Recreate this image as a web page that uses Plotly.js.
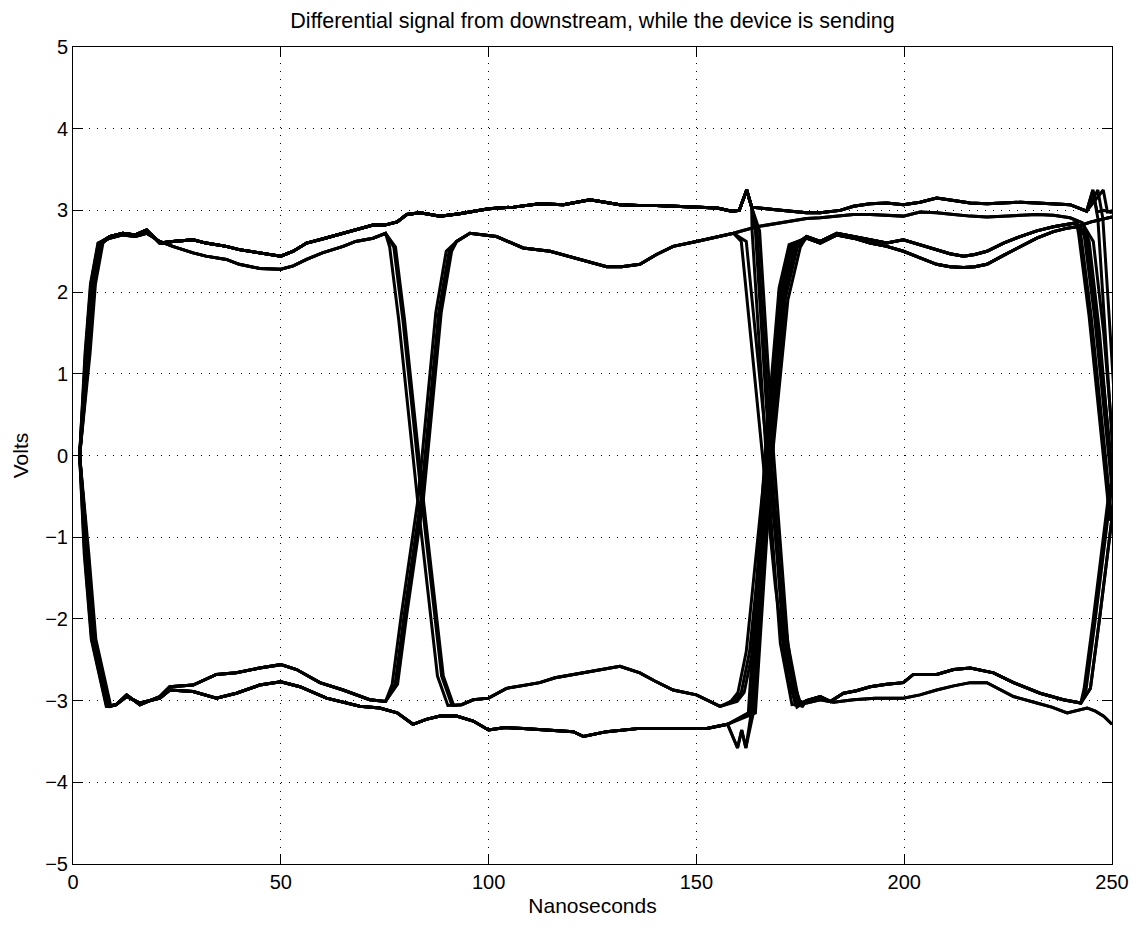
<!DOCTYPE html>
<html>
<head>
<meta charset="utf-8">
<script src="https://cdn.plot.ly/plotly-3.0.1.min.js"></script>
<style>html,body{margin:0;padding:0;background:#fff;}#chart{width:1147px;height:931px;}</style>
</head>
<body>
<div id="chart"></div>
<script>
// ---------- axis ticks ----------
const xTicks = [0, 50, 100, 150, 200, 250];
const yTicks = [-5, -4, -3, -2, -1, 0, 1, 2, 3, 4, 5];

// ---------- waveform pieces (ns, volts) ----------
// trigger point / first edge
const startT = [1.6];            const startV = [0];
const rise0T = [3.3, 4.6, 6.4];  const rise0V = [1.25, 2.1, 2.6];
const fall0T = [3.1, 4.8, 7.2, 8.4]; const fall0V = [-1.2, -2.25, -2.8, -3.07];

// bit 1 levels
const hi1aT = [8.8, 12, 15, 17.7, 20.9, 24, 28.9, 32, 36.9, 40, 44.9, 50, 53, 56.2, 60, 65, 68, 72.2, 75, 78, 80.3, 83.5, 86, 88.3];
const hi1aV = [2.68, 2.72, 2.7, 2.76, 2.6, 2.62, 2.64, 2.6, 2.56, 2.52, 2.48, 2.44, 2.5, 2.6, 2.65, 2.72, 2.76, 2.82, 2.82, 2.86, 2.95, 2.97, 2.95, 2.93];
const hi1bT = [8.8, 12, 15, 17.7, 20.9, 24, 28.9, 32, 36.9, 40, 44.9, 50, 53, 56.2, 60, 65, 68, 72.2, 75.2];
const hi1bV = [2.66, 2.7, 2.68, 2.72, 2.62, 2.56, 2.48, 2.44, 2.4, 2.34, 2.29, 2.28, 2.32, 2.4, 2.48, 2.56, 2.62, 2.66, 2.72];
const lo1uT = [10.4, 12.9, 16.1, 20.9, 23.3, 28.9, 34.5, 39.3, 44.9, 50, 53.8, 59.4, 65, 71.4, 75.2];
const lo1uV = [-3.05, -2.93, -3.05, -2.95, -2.83, -2.81, -2.68, -2.66, -2.6, -2.56, -2.62, -2.78, -2.87, -2.99, -3.01];
const lo1lT = [10.4, 12.9, 16.1, 20.9, 23.3, 28.9, 34.5, 39.3, 44.9, 50, 54.6, 61, 69, 73.8, 78, 81.8, 85, 88.3];
const lo1lV = [-3.05, -2.95, -3.03, -2.97, -2.87, -2.89, -2.97, -2.91, -2.81, -2.77, -2.83, -2.97, -3.07, -3.09, -3.15, -3.29, -3.23, -3.19];

// edges near 83 ns
const fall83T = [76.8, 79, 83.5, 88.3, 90.8]; const fall83V = [2.55, 1.65, -0.54, -2.7, -3.06];
const rise83T = [77.3, 79.5, 83.5, 87.8, 90.3]; const rise83V = [-2.8, -1.95, -0.54, 1.75, 2.5];

// bit 2 levels
const h2sT = [93, 100, 106, 112.3, 118, 124.4, 131.6, 136, 140.4, 145, 150, 155, 158.5];
const h2sV = [2.96, 3.02, 3.04, 3.08, 3.07, 3.13, 3.07, 3.06, 3.06, 3.05, 3.04, 3.03, 2.99];
const h2rT = [92.3, 95.5, 101.9, 108.3, 114.8, 120.4, 124, 128.4, 132, 136.4, 140.4, 144.4, 150, 155, 158.9];
const h2rV = [2.62, 2.72, 2.68, 2.54, 2.5, 2.42, 2.37, 2.31, 2.31, 2.34, 2.46, 2.56, 2.62, 2.68, 2.72];
const l2fT = [93.5, 96.3, 100, 104.3, 108, 112.3, 116, 120.4, 124, 128.4, 131.6, 136.4, 140, 144.4, 150, 155.7];
const l2fV = [-3.05, -2.99, -2.97, -2.85, -2.82, -2.78, -2.72, -2.68, -2.64, -2.6, -2.58, -2.66, -2.76, -2.87, -2.93, -3.07];
const l2sT = [92.3, 96.3, 100, 104, 108.3, 114, 120.4, 122.8, 128.4, 136.4, 144.4, 152.5, 157.5];
const l2sV = [-3.19, -3.25, -3.36, -3.33, -3.34, -3.36, -3.38, -3.44, -3.38, -3.34, -3.34, -3.34, -3.29];

// edges near 167 ns
const spike162T = [160.3, 162.1, 163.3]; const spike162V = [3.0, 3.25, 3.04];
const h2sStayT = [168.5, 173, 176.5];    const h2sStayV = [3.01, 2.99, 2.97];
const fallThickT = [164.2, 167.6, 171, 173.8]; const fallThickV = [2.75, 0, -2.3, -3.05];
const l2sSpikeT = [159.9, 160.9, 161.9]; const l2sSpikeV = [-3.58, -3.36, -3.58];
const riseThickT = [163.2, 167.2, 170.6, 173]; const riseThickV = [-3.15, 0, 2.05, 2.58];
const fall160T = [160.8, 163, 165.9, 169, 172, 174.2]; const fall160V = [2.62, 1.45, 0, -1.6, -2.75, -3.08];
const rise160T = [158.3, 160, 162, 166.8, 170.5, 173.5]; const rise160V = [-3.01, -2.9, -2.4, 0, 1.9, 2.55];
const h2rStayT = [164.5, 169, 172.5, 176.5]; const h2rStayV = [2.8, 2.84, 2.87, 2.9];

// bit 3 levels
const aT = [179.8, 184.6, 187.8, 191.8, 195.8, 199.8, 203.8, 207.8, 211.9, 215.9, 219.9, 223.9, 227.9, 231.9, 235.9, 239.9, 243.9];
const aV = [2.97, 3.0, 3.05, 3.08, 3.09, 3.07, 3.1, 3.15, 3.12, 3.09, 3.08, 3.09, 3.1, 3.09, 3.08, 3.07, 2.99];
const bT = [179.8, 183.8, 187.8, 191.8, 195.8, 199.8, 203.8, 207.8, 211.9, 215.9, 219.9, 223.9, 227.9, 231.9, 235.9, 239.9, 242.8];
const bV = [2.91, 2.93, 2.95, 2.95, 2.94, 2.93, 2.98, 2.97, 2.95, 2.93, 2.92, 2.93, 2.94, 2.95, 2.94, 2.91, 2.85];
const h3T = [176.5, 179.8, 183.8, 187.8, 191.8, 195.8, 199.8, 203.8, 207.8, 211, 214.3, 217, 219.9, 223.9, 227.9, 231.9, 235.9, 239, 241.5];
const h3uV = [2.68, 2.62, 2.72, 2.68, 2.64, 2.6, 2.64, 2.58, 2.52, 2.47, 2.44, 2.46, 2.5, 2.6, 2.68, 2.75, 2.8, 2.83, 2.85];
const h3lV = [2.66, 2.6, 2.7, 2.66, 2.6, 2.56, 2.5, 2.42, 2.34, 2.31, 2.3, 2.31, 2.34, 2.45, 2.56, 2.66, 2.74, 2.78, 2.8];
const l3uT = [176.5, 179.8, 182.2, 185.4, 188.5, 191.8, 195.8, 199.8, 202.2, 207.8, 211.9, 215.9, 221.5, 226.3, 232.7, 238.3, 242.5];
const l3uV = [-3.0, -2.95, -3.01, -2.91, -2.88, -2.83, -2.8, -2.78, -2.68, -2.68, -2.62, -2.6, -2.66, -2.78, -2.91, -2.99, -3.03];
const l3lT = [176.5, 179.8, 183, 187.8, 193, 199.8, 203.8, 207.8, 211.9, 215.9, 219.9, 226.3, 231.9, 235.5, 239.2, 244, 246, 248, 250];
const l3lV = [-3.03, -2.99, -3.02, -2.99, -2.97, -2.97, -2.93, -2.87, -2.82, -2.78, -2.78, -2.95, -3.03, -3.08, -3.15, -3.09, -3.13, -3.19, -3.29];

// edges near 250 ns
const endStayAT = [245.4, 246.4, 248, 250]; const endStayAV = [3.25, 2.98, 3.0, 2.97];
const endFallAT = [245.4, 246.6, 248.5, 250.5]; const endFallAV = [3.25, 2.9, 1.4, -0.2];
const endFallBT = [244.5, 247, 250.5]; const endFallBV = [2.62, 1.5, -0.6];
const endFallHT = [243, 245.5, 250.5]; const endFallHV = [2.7, 1.7, -0.8];
const endStayHT = [245, 250];          const endStayHV = [2.86, 2.92];
const endRiseT = [244.3, 246.5, 250.5]; const endRiseV = [-2.85, -2.0, -0.35];

// ---------- sweeps: route through pieces + edge timing jitter (ns) for edges 0/83/167/250 ----------
const sweepRoutes = [
  ['start','rise0','hi1a','h2s','spike162','h2sStay','a','endStayA'],
  ['start','rise0','hi1a','h2s','spike162','h2sStay','a','endStayA'],
  ['start','rise0','hi1a','h2s','spike162','h2sStay','a','endFallA'],
  ['start','rise0','hi1a','h2s','spike162','h2sStay','a','endFallA'],
  ['start','rise0','hi1a','h2s','spike162','fallThick','l3l'],
  ['start','rise0','hi1a','h2s','spike162','fallThick','l3l'],
  ['start','rise0','hi1a','h2s','spike162','fallThick','l3u','endRise'],
  ['start','rise0','hi1a','h2s','spike162','fallThick','l3u','endRise'],
  ['start','rise0','hi1b','fall83','l2f','rise160','h3u','endFallH'],
  ['start','rise0','hi1b','fall83','l2f','rise160','h3u','endFallH'],
  ['start','rise0','hi1b','fall83','l2f','rise160','h3l','endStayH'],
  ['start','fall0','lo1u','rise83','h2r','h2rStay','b','endFallB'],
  ['start','fall0','lo1u','rise83','h2r','h2rStay','b','endFallB'],
  ['start','fall0','lo1u','rise83','h2r','fall160','l3u','endRise'],
  ['start','fall0','lo1u','rise83','h2r','fall160','l3u','endRise'],
  ['start','fall0','lo1l','l2s','l2sSpike','riseThick','h3l','endStayH'],
  ['start','fall0','lo1l','l2s','riseThick','h3l','endStayH'],
  ['start','fall0','lo1l','l2s','l2sSpike','riseThick','h3u','endFallH'],
  ['start','fall0','lo1l','l2s','riseThick','h3u','endFallH'],
  ['start','fall0','lo1l','l2s','riseThick','h3l','endFallH']
];
const sweepJitter = [
  [0, 0, 0, 0], [0.5, 0, 0.3, 2.5], [0.2, 0, -0.4, 0], [0.6, 0, 0.6, 1.2],
  [-0.3, 0, -0.8, 0], [0.3, 0, 0.4, 0], [0.8, 0, 1.0, -1], [-0.2, 0, 0, 0.5],
  [0.4, -0.6, 0, -0.5], [-0.4, 0.4, 1.5, 0.6], [0, 0.8, 0.8, 0],
  [0, -0.5, 0, 0], [0.5, 0.5, 0, 1],
  [-0.3, 0.2, 0, 0.5], [0.3, 0.8, 1.2, -0.5],
  [0, 0, 0, 0], [0.5, 0, -0.7, 0], [-0.4, 0, 0.5, 0.8], [0.2, 0, 1.0, -1], [0.7, 0, -0.4, 0.3]
];

// piece table: [times, volts, which edge jitter applies (-1 = none)]
const pieces = {
  start:[startT,startV,-1], rise0:[rise0T,rise0V,0], fall0:[fall0T,fall0V,0],
  hi1a:[hi1aT,hi1aV,-1], hi1b:[hi1bT,hi1bV,-1], lo1u:[lo1uT,lo1uV,-1], lo1l:[lo1lT,lo1lV,-1],
  fall83:[fall83T,fall83V,1], rise83:[rise83T,rise83V,1],
  h2s:[h2sT,h2sV,-1], h2r:[h2rT,h2rV,-1], l2f:[l2fT,l2fV,-1], l2s:[l2sT,l2sV,-1],
  spike162:[spike162T,spike162V,-1], h2sStay:[h2sStayT,h2sStayV,-1], fallThick:[fallThickT,fallThickV,2],
  l2sSpike:[l2sSpikeT,l2sSpikeV,-1],
  riseThick:[riseThickT,riseThickV,2], fall160:[fall160T,fall160V,2], rise160:[rise160T,rise160V,2],
  h2rStay:[h2rStayT,h2rStayV,-1],
  a:[aT,aV,-1], b:[bT,bV,-1], h3u:[h3T,h3uV,-1], h3l:[h3T,h3lV,-1], l3u:[l3uT,l3uV,-1], l3l:[l3lT,l3lV,-1],
  endStayA:[endStayAT,endStayAV,3], endFallA:[endFallAT,endFallAV,3], endFallB:[endFallBT,endFallBV,3],
  endFallH:[endFallHT,endFallHV,3], endStayH:[endStayHT,endStayHV,3], endRise:[endRiseT,endRiseV,3]
};

const traces = sweepRoutes.map((route, i) => {
  const x = [], y = [];
  route.forEach(name => {
    const [T, V, e] = pieces[name];
    const d = e >= 0 ? sweepJitter[i][e] : 0;
    T.forEach((t, k) => { x.push(t + d); y.push(V[k]); });
  });
  return {x, y, type:'scatter', mode:'lines', line:{color:'#000', width:3}, hoverinfo:'skip', showlegend:false};
});

const fontFam = '"Liberation Sans", Arial, Helvetica, sans-serif';
const axisCommon = {
  ticks:'inside', ticklen:10, tickwidth:1, tickcolor:'#000',
  showline:true, linecolor:'#000', linewidth:1, mirror:'ticks',
  showgrid:true, gridcolor:'#000', gridwidth:1, griddash:'1px,7px',
  zeroline:false, tickfont:{family:fontFam, size:20, color:'#000'}
};
const layout = {
  width:1147, height:931,
  margin:{l:73, r:35, t:47, b:67},
  paper_bgcolor:'#fff', plot_bgcolor:'#fff',
  font:{family:fontFam, size:20, color:'#000'},
  title:{text:'Differential signal from downstream, while the device is sending',
         x:0.5, xref:'paper', xanchor:'center', y:0.9785, yref:'container', yanchor:'middle',
         font:{family:fontFam, size:21.5, color:'#000'}},
  xaxis:Object.assign({}, axisCommon, {range:[0,250], tickvals:xTicks, ticktext:xTicks.map(String),
         title:{text:'Nanoseconds', standoff:6, font:{family:fontFam, size:21, color:'#000'}}}),
  yaxis:Object.assign({}, axisCommon, {range:[-5,5], tickvals:yTicks,
         title:{text:'Volts', standoff:10, font:{family:fontFam, size:21, color:'#000'}}})
};
Plotly.newPlot('chart', traces, layout, {staticPlot:true, displayModeBar:false});
</script>
</body>
</html>
